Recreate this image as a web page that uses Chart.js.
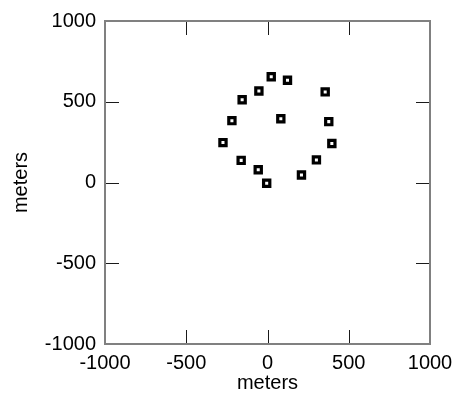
<!DOCTYPE html>
<html>
<head>
<meta charset="utf-8">
<script src="https://cdn.jsdelivr.net/npm/chart.js@4"></script>
<style>
html,body{margin:0;padding:0;background:#fff;}
#wrap{width:461px;height:403px;}
</style>
</head>
<body>
<div id="wrap"><canvas id="c" width="461" height="403"></canvas></div>
<script>
const xValues = [23, 123, -53, -156, 355, -219, 82, 377, -274, 396, -162, 301, -57, 209, -5];
const yValues = [655, 633, 567, 512, 561, 383, 395, 377, 247, 241, 137, 140, 79, 46, -5];
const tickValues = [-1000, -500, 0, 500, 1000];
const xTitle = 'meters';
const yTitle = 'meters';

const points = xValues.map((x, i) => ({x: x, y: yValues[i]}));

const framePlugin = {
  id: 'frame',
  beforeDatasetsDraw(chart) {
    const {ctx, chartArea: a, scales} = chart;
    ctx.save();
    ctx.strokeStyle = '#1a1a1a';
    ctx.lineWidth = 1;
    const len = 14;
    tickValues.forEach(v => {
      const px = Math.round(scales.x.getPixelForValue(v)) + 0.5;
      const py = Math.round(scales.y.getPixelForValue(v)) + 0.5;
      ctx.beginPath();
      ctx.moveTo(px, a.bottom); ctx.lineTo(px, a.bottom - len);
      ctx.moveTo(px, a.top); ctx.lineTo(px, a.top + len);
      ctx.moveTo(a.left, py); ctx.lineTo(a.left + len, py);
      ctx.moveTo(a.right, py); ctx.lineTo(a.right - len, py);
      ctx.stroke();
    });
    ctx.strokeStyle = '#808080';
    ctx.lineWidth = 2;
    ctx.strokeRect(a.left, a.top, a.right - a.left, a.bottom - a.top);
    ctx.restore();
  }
};

const font = {family: 'Liberation Sans, Arial, sans-serif', size: 20};
const fmt = v => String(v);

new Chart(document.getElementById('c'), {
  type: 'scatter',
  data: {
    datasets: [{
      data: points,
      pointStyle: 'rect',
      pointRadius: 4.4,
      pointHoverRadius: 4.4,
      pointBorderWidth: 3.2,
      pointBorderColor: '#000',
      pointBackgroundColor: '#fff',
      showLine: false
    }]
  },
  options: {
    responsive: false,
    animation: false,
    events: [],
    layout: {padding: {top: 19, right: 31, left: 0, bottom: 0}},
    plugins: {legend: {display: false}, tooltip: {enabled: false}},
    scales: {
      x: {
        type: 'linear', min: -1000, max: 1000,
        afterBuildTicks: s => { s.ticks = tickValues.map(v => ({value: v})); },
        afterFit: s => { s.height = 59; },
        grid: {display: false, drawTicks: false},
        border: {display: false},
        ticks: {color: '#000', font: font, padding: 7, maxRotation: 0, autoSkip: false, callback: fmt},
        title: {display: true, text: xTitle, color: '#000', font: font, padding: {top: 0, bottom: 8}}
      },
      y: {
        type: 'linear', min: -1000, max: 1000,
        afterBuildTicks: s => { s.ticks = tickValues.map(v => ({value: v})); },
        afterFit: s => { s.width = 105; },
        grid: {display: false, drawTicks: false},
        border: {display: false},
        ticks: {color: '#000', font: font, padding: 9, autoSkip: false, callback: fmt},
        title: {display: true, text: yTitle, color: '#000', font: font, padding: {top: 9, bottom: 0}}
      }
    }
  },
  plugins: [framePlugin]
});
</script>
</body>
</html>
